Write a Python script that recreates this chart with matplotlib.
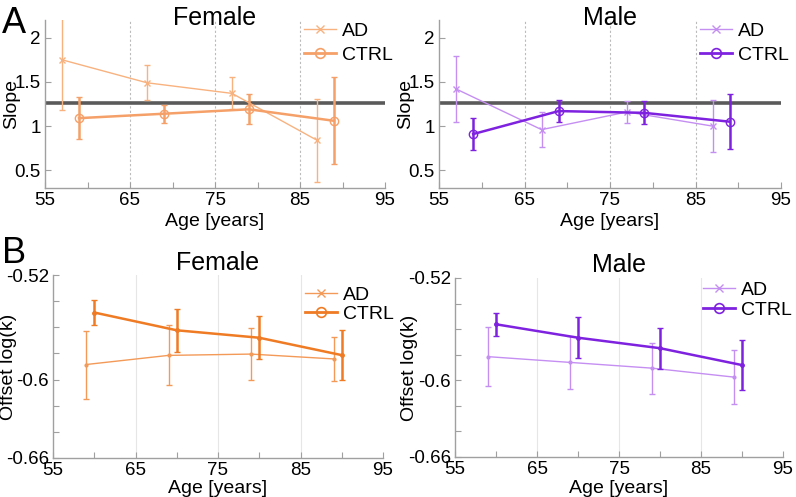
import numpy as np
import matplotlib
matplotlib.use("Agg")
import matplotlib.pyplot as plt
from matplotlib.lines import Line2D

plt.rcParams['font.family'] = ['Liberation Sans', 'DejaVu Sans']

# ---- Data: panel A (slope) ----
ageA_ad = [57, 67, 77, 87]
ageA_ctrl = [59, 69, 79, 89]
slope_f_ad = [1.75, 1.49, 1.37, 0.84]
slope_f_ad_err = [0.57, 0.20, 0.18, 0.47]
slope_f_ctrl = [1.09, 1.14, 1.19, 1.06]
slope_f_ctrl_err = [0.24, 0.10, 0.17, 0.49]
slope_m_ad = [1.42, 0.96, 1.16, 1.00]
slope_m_ad_err = [0.37, 0.20, 0.12, 0.29]
slope_m_ctrl = [0.91, 1.17, 1.15, 1.05]
slope_m_ctrl_err = [0.18, 0.12, 0.13, 0.31]
slope_ref = 1.26

# ---- Data: panel B (offset) ----
ageB_ad = [59, 69, 79, 89]
ageB_ctrl = [60, 70, 80, 90]
off_f_ad = [-0.5885, -0.5815, -0.5805, -0.5842]
off_f_ad_err = [0.026, 0.023, 0.020, 0.017]
off_f_ctrl = [-0.5487, -0.5623, -0.5680, -0.5813]
off_f_ctrl_err = [0.0095, 0.0165, 0.0165, 0.019]
off_m_ad = [-0.5815, -0.5860, -0.5905, -0.5975]
off_m_ad_err = [0.023, 0.021, 0.020, 0.021]
off_m_ctrl = [-0.5562, -0.5667, -0.5749, -0.5881]
off_m_ctrl_err = [0.0088, 0.016, 0.016, 0.0195]

xticks = [55, 65, 75, 85, 95]
xminor = [60, 70, 80, 90]

W, H = 796, 497
fig = plt.figure(figsize=(W / 100, H / 100), dpi=100)

spine_col = '#a0a0a0'
TICK_FS = 13.5
LAB_FS = 14
TITLE_FS = 18
LEG_FS = 14

def add_axes_px(left, top, right, bottom):
    return fig.add_axes([left / W, 1 - bottom / H, (right - left) / W, (bottom - top) / H])

def style_axes(ax):
    for s in ['top', 'right']:
        ax.spines[s].set_visible(False)
    for s in ['left', 'bottom']:
        ax.spines[s].set_color(spine_col)
        ax.spines[s].set_linewidth(1.0)
    ax.tick_params(direction='in', colors=spine_col, labelcolor='black',
                   labelsize=TICK_FS, length=4, width=0.8, pad=3)
    ax.tick_params(which='minor', direction='in', colors=spine_col, length=4, width=0.8)
    ax.set_xlim(55, 95)
    ax.set_xticks(xticks)
    ax.set_xticks(xminor, minor=True)
    ax.set_xticklabels([str(v) for v in xticks])

def legend(ax, c_ad, c_ctrl, anchor, spacing):
    h1 = Line2D([], [], color=c_ad, lw=1.0, marker='x', ms=6, mew=1.0, label='AD')
    h2 = Line2D([], [], color=c_ctrl, lw=2.0, marker='o', ms=7, mfc='none', mew=1.2, label='CTRL')
    ax.legend(handles=[h1, h2], loc='upper left', frameon=False, fontsize=LEG_FS,
              handlelength=1.65, borderpad=0.0, borderaxespad=0.0,
              bbox_to_anchor=anchor, labelspacing=spacing, handletextpad=0.3)

def panelA(box, ad, ad_err, ctrl, ctrl_err, c_ad, c_ctrl, title, ylab_x):
    ax = add_axes_px(*box)
    style_axes(ax)
    ax.set_ylim(0.3, 2.2)
    ax.set_yticks([0.5, 1, 1.5, 2])
    ax.set_yticklabels(['0.5', '1', '1.5', '2'])
    for gx in [65, 75, 85]:
        ax.axvline(gx, color='#bbbbbb', lw=0.8, ls=(0, (2, 2)), zorder=0)
    ax.axhline(slope_ref, color='#5a5a5a', lw=2.6, zorder=1)
    ax.errorbar(ageA_ad, ad, yerr=ad_err, color=c_ad, lw=1.0, marker='x', ms=5,
                mew=1.0, capsize=2.5, elinewidth=1.0, zorder=3)
    ax.errorbar(ageA_ctrl, ctrl, yerr=ctrl_err, color=c_ctrl, lw=1.8, marker='o', ms=6,
                mfc='none', mew=1.0, capsize=2.5, elinewidth=1.8, zorder=4)
    legend(ax, c_ad, c_ctrl, (0.762, 0.985), 0.3)
    ax.set_ylabel('Slope', fontsize=LAB_FS)
    ax.yaxis.set_label_coords(ylab_x, 0.5)
    ax.set_xlabel('Age [years]', fontsize=LAB_FS)
    ax.xaxis.set_label_coords(0.5, -0.15)
    left, top, right, bottom = box
    fig.text((left + right) / 2 / W, 1 - 25 / H, title, fontsize=TITLE_FS,
             ha='center', va='baseline')
    return ax

def panelB(box, ad, ad_err, ctrl, ctrl_err, c_ad, c_ctrl, title, ylab_x, xlab_y,
           leg_anchor, title_base):
    ax = add_axes_px(*box)
    style_axes(ax)
    ax.set_ylim(-0.66, -0.52)
    yt = [-0.66, -0.64, -0.62, -0.60, -0.58, -0.56, -0.54, -0.52]
    ax.set_yticks(yt)
    ax.set_yticklabels(['-0.66', '', '', '-0.6', '', '', '', '-0.52'])
    for gx in [65, 75, 85]:
        ax.axvline(gx, color='#e6e6e6', lw=0.8, zorder=0)
    ax.errorbar(ageB_ad, ad, yerr=ad_err, color=c_ad, lw=1.0, marker='.', ms=4,
                capsize=2.5, elinewidth=1.0, zorder=3)
    ax.errorbar(ageB_ctrl, ctrl, yerr=ctrl_err, color=c_ctrl, lw=1.8, marker='.', ms=5,
                capsize=2.5, elinewidth=1.8, zorder=4)
    legend(ax, c_ad, c_ctrl, leg_anchor, 0.1)
    ax.set_ylabel('Offset log(k)', fontsize=LAB_FS)
    ax.yaxis.set_label_coords(ylab_x, 0.5)
    ax.set_xlabel('Age [years]', fontsize=LAB_FS)
    ax.xaxis.set_label_coords(0.5, xlab_y)
    left, top, right, bottom = box
    fig.text((left + right) / 2 / W, 1 - title_base / H, title, fontsize=TITLE_FS,
             ha='center', va='baseline')
    return ax

panelA((45, 20, 385, 188), slope_f_ad, slope_f_ad_err, slope_f_ctrl, slope_f_ctrl_err,
       '#F8B27F', '#F5A068', 'Female', -0.074)
panelA((439, 20, 781, 188), slope_m_ad, slope_m_ad_err, slope_m_ctrl, slope_m_ctrl_err,
       '#C58FF2', '#7F22E0', 'Male', -0.073)
panelB((53, 275, 383, 458), off_f_ad, off_f_ad_err, off_f_ctrl, off_f_ctrl_err,
       '#F39A58', '#EF7B24', 'Female', -0.109, -0.12, (0.764, 0.94), 270)
panelB((455, 278, 783, 457), off_m_ad, off_m_ad_err, off_m_ctrl, off_m_ctrl_err,
       '#C58FF2', '#7F22E0', 'Male', -0.113, -0.128, (0.756, 0.98), 272)

fig.text(2 / W, 1 - 33 / H, 'A', fontsize=26, va='baseline', ha='left')
fig.text(2 / W, 1 - 263 / H, 'B', fontsize=26, va='baseline', ha='left')

fig.savefig('out.png', dpi=100)
